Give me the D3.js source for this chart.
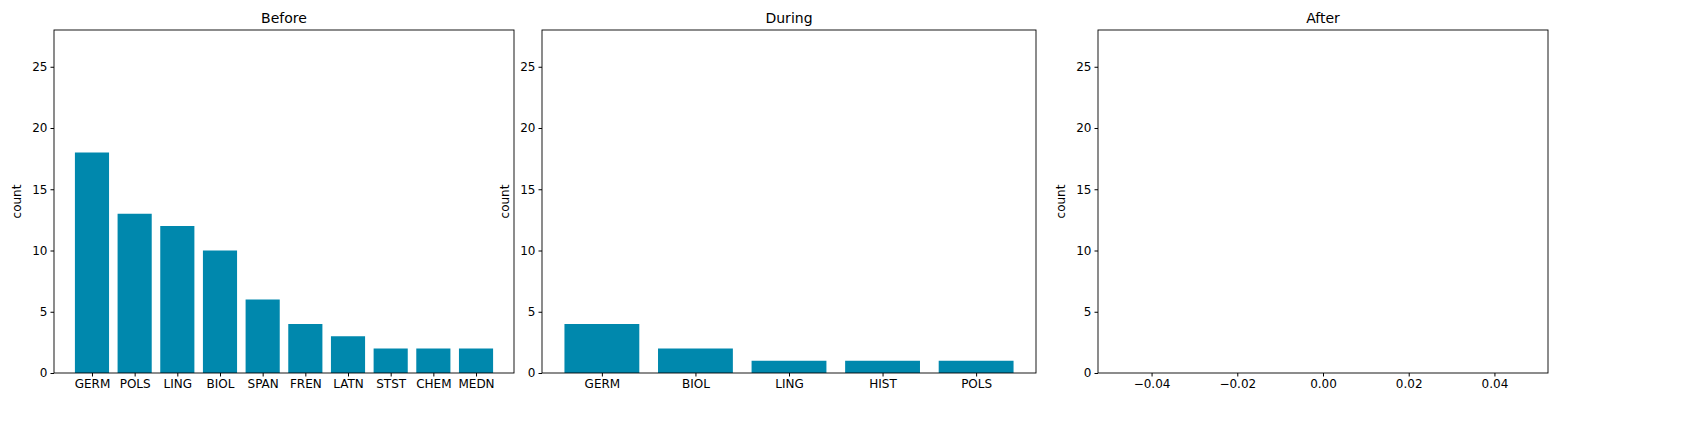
<!DOCTYPE html>
<html><head><meta charset="utf-8">
<script src="https://cdn.jsdelivr.net/npm/d3@7"></script>
<style>body{margin:0;background:#fff}text{font-family:"DejaVu Sans",sans-serif}</style>
</head><body>
<script>
let width = 1686, height = 435;
let beforeCats = ['GERM', 'POLS', 'LING', 'BIOL', 'SPAN', 'FREN', 'LATN', 'STST', 'CHEM', 'MEDN'];
let beforeVals = [18, 13, 12, 10, 6, 4, 3, 2, 2, 2];
let duringCats = ['GERM', 'BIOL', 'LING', 'HIST', 'POLS'];
let duringVals = [4, 2, 1, 1, 1];
let afterTicks = [-0.04, -0.02, 0.00, 0.02, 0.04];
let yTicks = [0, 5, 10, 15, 20, 25];

let panels = [
    { title: 'Before', cats: beforeCats, vals: beforeVals, x0: 54, x1: 514 },
    { title: 'During', cats: duringCats, vals: duringVals, x0: 542, x1: 1036 },
    { title: 'After', cats: [], vals: [], x0: 1098, x1: 1548 }
];
let plotTop = 30, plotBottom = 373;

let svg = d3.select("body").append("svg").attr("width", width).attr("height", height);
let y = d3.scaleLinear().domain([0, 28]).range([plotBottom, plotTop]);

panels.forEach(p => {
    let g = svg.append("g");
    let n = p.cats.length;
    let x;
    if (n > 0) {
        let pad = 0.05 * (n - 1 + 0.8);
        x = d3.scaleLinear().domain([-0.4 - pad, n - 1 + 0.4 + pad]).range([p.x0, p.x1]);
    } else {
        x = d3.scaleLinear().domain([-0.0525, 0.0525]).range([p.x0, p.x1]);
    }
    g.selectAll("rect.bar").data(p.vals).enter().append("rect")
        .attr("x", (d, i) => x(i - 0.4))
        .attr("width", (d, i) => x(i + 0.4) - x(i - 0.4))
        .attr("y", d => y(d))
        .attr("height", d => y(0) - y(d))
        .style("fill", "#0088ad");

    let xAxis = n > 0
        ? d3.axisBottom(x).tickValues(d3.range(n)).tickFormat(i => p.cats[i])
        : d3.axisBottom(x).tickValues(afterTicks).tickFormat(d => d3.format(".2f")(d).replace('-', '\u2212'));
    g.append("g").attr("transform", `translate(0,${plotBottom})`).call(xAxis.tickSize(3.5).tickPadding(3));
    g.append("g").attr("transform", `translate(${p.x0},0)`).call(d3.axisLeft(y).tickValues(yTicks).tickSize(3.5).tickPadding(3));
    g.selectAll(".domain").remove();
    g.selectAll(".tick text").style("font-size", "12px").style("fill", "#000");
    g.selectAll(".tick line").style("stroke", "#000");

    g.append("rect").attr("x", p.x0).attr("y", plotTop).attr("width", p.x1 - p.x0).attr("height", plotBottom - plotTop)
        .style("fill", "none").style("stroke", "#000").style("stroke-width", 0.9);
    g.append("text").attr("x", (p.x0 + p.x1) / 2).attr("y", plotTop - 7).attr("text-anchor", "middle")
        .style("font-size", "14px").text(p.title);
    g.append("text").attr("transform", `translate(${p.x0 - 33},${(plotTop + plotBottom) / 2}) rotate(-90)`)
        .attr("text-anchor", "middle").style("font-size", "12px").text("count");
});
</script>
</body></html>
